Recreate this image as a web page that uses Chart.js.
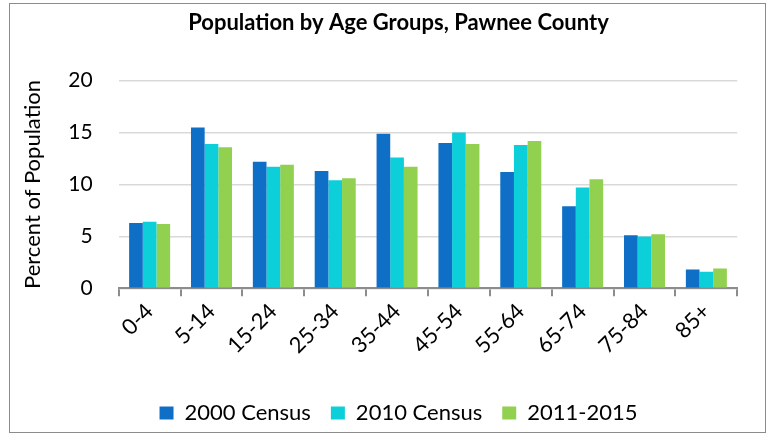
<!DOCTYPE html>
<html>
<head>
<meta charset="utf-8">
<script src="https://cdn.jsdelivr.net/npm/chart.js@4.4.1/dist/chart.umd.min.js"></script>
<style>
  html, body { margin:0; padding:0; background:#fff; overflow:hidden; width:768px; height:435px; }
  #wrap { position:absolute; left:0; top:0; width:800px; height:435px; }
  #frame { position:absolute; left:9px; top:3px; width:757px; height:430px; box-sizing:border-box; border:1px solid #8c8c8c; pointer-events:none; }
</style>
</head>
<body>
<div id="wrap"><canvas id="c" width="800" height="435"></canvas></div>
<div id="frame"></div>
<script>
const categories = ['0-4','5-14','15-24','25-34','35-44','45-54','55-64','65-74','75-84','85+'];
const census2000 = [6.3, 15.5, 12.2, 11.3, 14.9, 14.0, 11.2, 7.9, 5.1, 1.8];
const census2010 = [6.4, 13.9, 11.7, 10.4, 12.6, 15.0, 13.8, 9.7, 5.0, 1.6];
const acs2011_2015 = [6.2, 13.6, 11.9, 10.6, 11.7, 13.9, 14.2, 10.5, 5.2, 1.9];
const seriesNames = ['2000 Census', '2010 Census', '2011-2015'];
const yTicks = [0, 5, 10, 15, 20];

const FONT = 'Lato, Carlito, "Liberation Sans", sans-serif';

new Chart(document.getElementById('c'), {
  type: 'bar',
  data: {
    labels: categories,
    datasets: [
      { label: seriesNames[0], data: census2000, backgroundColor: '#0f6fc6' },
      { label: seriesNames[1], data: census2010, backgroundColor: '#0dcfda' },
      { label: seriesNames[2], data: acs2011_2015, backgroundColor: '#92d050' }
    ]
  },
  options: {
    responsive: false,
    animation: false,
    devicePixelRatio: 1,
    layout: { padding: { left: 10, right: 13, top: 0, bottom: 1 } },
    datasets: { bar: { categoryPercentage: 0.663, barPercentage: 1.0 } },
    plugins: {
      title: {
        display: true,
        text: 'Population by Age Groups, Pawnee County',
        color: '#000',
        font: { family: FONT, size: 22, weight: 'bold' },
        padding: { top: 10.2, bottom: 44.1 }
      },
      legend: {
        position: 'bottom',
        labels: {
          color: '#000',
          font: { family: FONT, size: 22 },
          boxWidth: 14,
          boxHeight: 13,
          padding: 20
        }
      },
      tooltip: { enabled: false }
    },
    scales: {
      x: {
        offset: true,
        grid: { display: true, drawOnChartArea: false, offset: true, tickLength: 8, color: '#8c8c8c', lineWidth: 2 },
        border: { display: true, color: '#8c8c8c', width: 2 },
        ticks: { color: '#000', font: { family: FONT, size: 22 }, minRotation: 45, maxRotation: 45, autoSkip: false, padding: 2 },
        afterFit: s => { s.height = 93.7; }
      },
      y: {
        min: 0, max: 20,
        afterBuildTicks: s => { s.ticks = yTicks.map(v => ({ value: v })); },
        grid: { color: '#d9d9d9', lineWidth: 1.5, drawTicks: false },
        border: { display: false },
        ticks: { color: '#000', font: { family: FONT, size: 21 }, padding: 26 },
        title: { display: true, text: 'Percent of Population', color: '#000', font: { family: FONT, size: 22 }, padding: { top: 9.8, bottom: 0 } },
        afterFit: s => { s.width = 108.7; }
      },
      yR: {
        position: 'right',
        display: true,
        grid: { display: false, drawTicks: false },
        border: { display: false },
        ticks: { display: false },
        afterFit: s => { s.width = 49.7; }
      }
    }
  }
});
</script>
</body>
</html>
